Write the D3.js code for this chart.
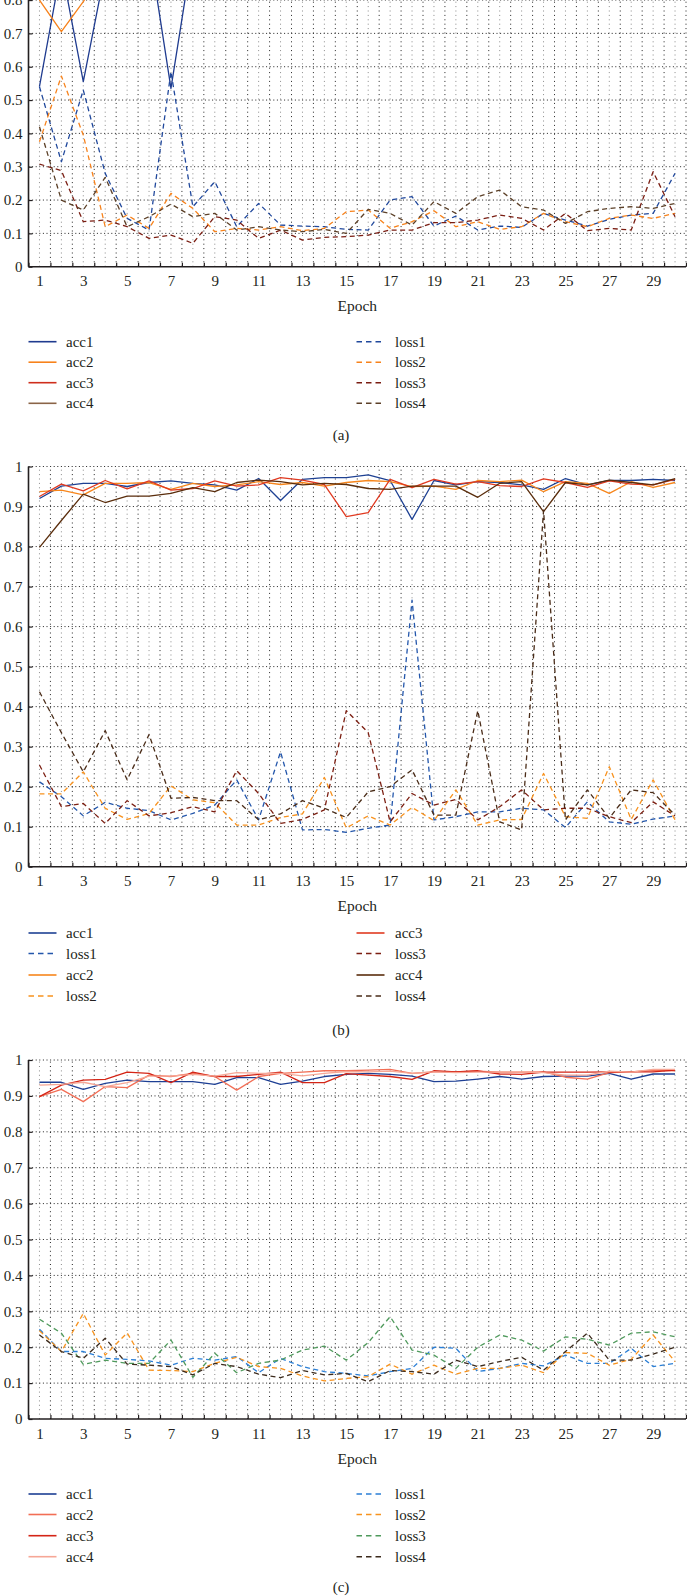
<!DOCTYPE html>
<html><head><meta charset="utf-8">
<script src="https://cdn.jsdelivr.net/npm/d3@7"></script>
<style>
body{margin:0;background:#fff}
svg{display:block}
text{font-family:"Liberation Serif","Times New Roman",serif;fill:#231f20}
</style>
</head><body>
<svg id="chart" width="687" height="1596"></svg>
<script>
const epochs = d3.range(1, 31);
const yTickValues = [0,0.1,0.2,0.3,0.4,0.5,0.6,0.7,0.8,0.9,1];
const xTickLabels = [1,3,5,7,9,11,13,15,17,19,21,23,25,27,29];

// ---- panel (a)
const a_acc1 = [0.54,0.90,0.555,0.89,0.95,0.96,0.535,0.95,0.96,0.96,0.97,0.96,0.97,0.97,0.97,0.97,0.98,0.97,0.97,0.97,0.98,0.97,0.97,0.98,0.97,0.98,0.97,0.98,0.98,0.98];
const a_acc2 = [0.80,0.705,0.795,0.90,0.93,0.94,0.93,0.95,0.96,0.95,0.96,0.96,0.96,0.97,0.95,0.95,0.96,0.96,0.95,0.96,0.96,0.96,0.96,0.95,0.96,0.96,0.96,0.96,0.96,0.96];
const a_acc3 = [0.88,0.90,0.95,0.95,0.96,0.97,0.97,0.97,0.96,0.96,0.97,0.97,0.97,0.97,0.97,0.97,0.97,0.97,0.96,0.97,0.96,0.96,0.96,0.97,0.96,0.97,0.97,0.97,0.93,0.96];
const a_acc4 = [0.86,0.93,0.94,0.92,0.96,0.95,0.94,0.95,0.95,0.96,0.96,0.96,0.96,0.96,0.97,0.95,0.95,0.96,0.94,0.95,0.94,0.93,0.94,0.95,0.95,0.95,0.95,0.94,0.95,0.95];
const a_loss1 = [0.54,0.315,0.53,0.28,0.145,0.11,0.585,0.18,0.255,0.12,0.19,0.125,0.122,0.12,0.112,0.11,0.20,0.21,0.122,0.152,0.11,0.122,0.118,0.16,0.14,0.122,0.142,0.155,0.16,0.28];
const a_loss2 = [0.375,0.572,0.395,0.12,0.155,0.115,0.22,0.175,0.105,0.115,0.11,0.12,0.108,0.115,0.165,0.17,0.115,0.135,0.168,0.12,0.135,0.112,0.12,0.16,0.135,0.12,0.145,0.155,0.145,0.16];
const a_loss3 = [0.308,0.288,0.135,0.14,0.12,0.085,0.095,0.07,0.15,0.14,0.085,0.11,0.08,0.088,0.09,0.095,0.11,0.11,0.132,0.132,0.14,0.155,0.145,0.11,0.16,0.108,0.115,0.11,0.285,0.15];
const a_loss4 = [0.42,0.20,0.17,0.268,0.12,0.15,0.188,0.15,0.16,0.11,0.12,0.11,0.105,0.112,0.10,0.172,0.16,0.125,0.195,0.16,0.21,0.23,0.18,0.17,0.13,0.165,0.175,0.18,0.175,0.19];

// ---- panel (b)
const b_acc1 = [0.920,0.951,0.958,0.958,0.950,0.960,0.964,0.958,0.954,0.941,0.970,0.915,0.968,0.972,0.972,0.979,0.965,0.868,0.965,0.954,0.962,0.960,0.954,0.943,0.970,0.954,0.965,0.965,0.968,0.965];
const b_acc2 = [0.937,0.941,0.929,0.958,0.958,0.960,0.943,0.958,0.950,0.954,0.962,0.955,0.960,0.951,0.960,0.965,0.962,0.950,0.951,0.943,0.965,0.962,0.966,0.937,0.962,0.958,0.933,0.962,0.948,0.960];
const b_acc3 = [0.925,0.956,0.939,0.965,0.944,0.964,0.941,0.945,0.964,0.951,0.954,0.972,0.966,0.955,0.875,0.885,0.968,0.947,0.968,0.956,0.962,0.952,0.950,0.969,0.960,0.948,0.964,0.956,0.954,0.968];
const b_acc4 = [0.798,0.865,0.931,0.910,0.926,0.926,0.933,0.947,0.937,0.960,0.966,0.962,0.954,0.958,0.955,0.945,0.943,0.951,0.951,0.951,0.923,0.958,0.962,0.887,0.960,0.954,0.966,0.960,0.954,0.970];
const b_loss1 = [0.212,0.175,0.127,0.161,0.146,0.14,0.117,0.133,0.154,0.217,0.117,0.287,0.092,0.093,0.086,0.096,0.104,0.666,0.117,0.125,0.137,0.137,0.146,0.142,0.098,0.162,0.112,0.106,0.119,0.127];
const b_loss2 = [0.182,0.182,0.237,0.146,0.118,0.133,0.202,0.167,0.16,0.104,0.104,0.123,0.132,0.223,0.097,0.127,0.104,0.148,0.115,0.192,0.104,0.117,0.118,0.233,0.125,0.121,0.25,0.118,0.217,0.117];
const b_loss3 = [0.254,0.150,0.158,0.108,0.165,0.127,0.135,0.150,0.137,0.24,0.183,0.108,0.118,0.142,0.39,0.335,0.112,0.183,0.154,0.168,0.117,0.150,0.192,0.142,0.146,0.146,0.125,0.11,0.162,0.127];
const b_loss4 = [0.437,0.335,0.237,0.34,0.217,0.33,0.171,0.173,0.165,0.165,0.117,0.132,0.165,0.146,0.123,0.187,0.2,0.242,0.129,0.129,0.39,0.112,0.092,0.89,0.117,0.192,0.121,0.192,0.185,0.129];

// ---- panel (c)
const c_acc1 = [0.938,0.938,0.918,0.935,0.944,0.94,0.94,0.94,0.932,0.951,0.951,0.932,0.941,0.954,0.960,0.963,0.960,0.955,0.940,0.941,0.947,0.954,0.947,0.954,0.955,0.955,0.963,0.947,0.961,0.961];
const c_acc2 = [0.898,0.918,0.884,0.926,0.923,0.958,0.954,0.963,0.954,0.916,0.954,0.963,0.966,0.970,0.970,0.972,0.974,0.963,0.967,0.967,0.969,0.966,0.966,0.967,0.952,0.947,0.965,0.967,0.972,0.970];
const c_acc3 = [0.898,0.930,0.944,0.946,0.966,0.963,0.937,0.966,0.954,0.954,0.960,0.966,0.937,0.937,0.962,0.958,0.954,0.946,0.970,0.967,0.970,0.961,0.960,0.966,0.966,0.966,0.967,0.967,0.967,0.972];
const c_acc4 = [0.930,0.932,0.938,0.926,0.937,0.955,0.955,0.960,0.955,0.965,0.963,0.963,0.956,0.963,0.968,0.967,0.969,0.963,0.967,0.965,0.966,0.966,0.966,0.965,0.958,0.958,0.969,0.966,0.974,0.974];
const c_loss1 = [0.25,0.188,0.188,0.169,0.166,0.162,0.15,0.169,0.164,0.174,0.129,0.169,0.146,0.132,0.127,0.12,0.132,0.141,0.2,0.197,0.132,0.141,0.155,0.148,0.178,0.155,0.155,0.197,0.146,0.155];
const c_loss2 = [0.246,0.188,0.294,0.178,0.24,0.136,0.135,0.132,0.155,0.172,0.146,0.141,0.12,0.106,0.113,0.118,0.153,0.125,0.15,0.125,0.141,0.141,0.15,0.129,0.185,0.183,0.15,0.166,0.234,0.16];
const c_loss3 = [0.278,0.239,0.152,0.164,0.155,0.155,0.22,0.116,0.183,0.129,0.155,0.164,0.192,0.203,0.164,0.213,0.285,0.192,0.178,0.141,0.2,0.234,0.22,0.189,0.229,0.222,0.206,0.239,0.243,0.229];
const c_loss4 = [0.234,0.188,0.169,0.225,0.153,0.15,0.146,0.123,0.155,0.146,0.125,0.115,0.135,0.123,0.127,0.104,0.135,0.132,0.125,0.164,0.146,0.16,0.172,0.136,0.188,0.239,0.164,0.164,0.181,0.2];

const DASH = "5,3.5";
const panels = [
  { caption: "(a)", y0: 266.7, y1: -66.6, legendRows: [75, 95.5, 116, 136.6], captionY: 435,
    series: [
      {name:"acc1", data:a_acc1, color:"#1f3b8f"},
      {name:"acc2", data:a_acc2, color:"#f7821b"},
      {name:"acc3", data:a_acc3, color:"#cf2e1c"},
      {name:"acc4", data:a_acc4, color:"#8a6447"},
      {name:"loss1", data:a_loss1, color:"#20489c", dash:true},
      {name:"loss2", data:a_loss2, color:"#f7821b", dash:true},
      {name:"loss3", data:a_loss3, color:"#7a1d12", dash:true},
      {name:"loss4", data:a_loss4, color:"#5c4028", dash:true}
    ],
    left: ["acc1","acc2","acc3","acc4"], right: ["loss1","loss2","loss3","loss4"] },
  { caption: "(b)", y0: 866.7, y1: 466.5, legendRows: [66.3, 86.8, 108.3, 129.3], captionY: 1030,
    series: [
      {name:"acc1", data:b_acc1, color:"#1e4193"},
      {name:"acc2", data:b_acc2, color:"#f7861c"},
      {name:"acc3", data:b_acc3, color:"#e03a21"},
      {name:"acc4", data:b_acc4, color:"#5a2d0c"},
      {name:"loss1", data:b_loss1, color:"#2356ab", dash:true},
      {name:"loss2", data:b_loss2, color:"#f8921e", dash:true},
      {name:"loss3", data:b_loss3, color:"#7c1f12", dash:true},
      {name:"loss4", data:b_loss4, color:"#4a2c18", dash:true}
    ],
    left: ["acc1","loss1","acc2","loss2"], right: ["acc3","loss3","acc4","loss4"] },
  { caption: "(c)", y0: 1419, y1: 1060, legendRows: [75, 95.5, 116.7, 137.7], captionY: 1587,
    series: [
      {name:"acc1", data:c_acc1, color:"#1d3f94"},
      {name:"acc2", data:c_acc2, color:"#f26e55"},
      {name:"acc3", data:c_acc3, color:"#d42516"},
      {name:"acc4", data:c_acc4, color:"#f6a796"},
      {name:"loss1", data:c_loss1, color:"#2b7fd6", dash:true},
      {name:"loss2", data:c_loss2, color:"#f7931e", dash:true},
      {name:"loss3", data:c_loss3, color:"#4f9a5c", dash:true},
      {name:"loss4", data:c_loss4, color:"#3b2a1c", dash:true}
    ],
    left: ["acc1","acc2","acc3","acc4"], right: ["loss1","loss2","loss3","loss4"] }
];

const svg = d3.select("#chart");
const X0 = 28.5, X1 = 686;
const x = d3.scaleLinear().domain([0.5, 30.5]).range([X0, X1]);
const boundaries = d3.range(0.5, 31, 1);

panels.forEach(p => {
  const y = d3.scaleLinear().domain([0, 1]).range([p.y0, p.y1]);
  const g = svg.append("g");

  // vertical grid: band centres (light) and boundaries (dark)
  g.append("g").selectAll("line").data(epochs).join("line")
    .attr("x1", d => x(d)).attr("x2", d => x(d))
    .attr("y1", y(0)).attr("y2", y(1))
    .attr("stroke", "#8a8a8a").attr("stroke-width", 1).attr("stroke-dasharray", "1,3.4");
  g.append("g").selectAll("line").data(boundaries.slice(1)).join("line")
    .attr("x1", d => x(d)).attr("x2", d => x(d))
    .attr("y1", y(0)).attr("y2", y(1))
    .attr("stroke", "#222").attr("stroke-width", 1).attr("stroke-dasharray", "1,3.4");
  // horizontal grid
  g.append("g").selectAll("line").data(yTickValues.slice(1)).join("line")
    .attr("x1", X0).attr("x2", X1)
    .attr("y1", d => y(d)).attr("y2", d => y(d))
    .attr("stroke", "#222").attr("stroke-width", 1).attr("stroke-dasharray", "1,2.6");

  // series lines
  const line = d3.line().x((d, i) => x(epochs[i])).y(d => y(d));
  p.series.forEach(s => {
    g.append("path").datum(s.data)
      .attr("d", line)
      .attr("fill", "none")
      .attr("stroke", s.color)
      .attr("stroke-width", 1.3)
      .attr("stroke-linejoin", "round")
      .attr("stroke-dasharray", s.dash ? DASH : null);
  });

  // y axis (only labels that fall on the canvas)
  const visibleTicks = yTickValues.filter(v => y(v) > -12);
  const yAxis = d3.axisLeft(y).tickValues(visibleTicks)
    .tickSize(-4).tickPadding(6)
    .tickFormat(d => (d === 0 || d === 1) ? String(d) : d.toFixed(1));
  const ya = g.append("g").attr("transform", `translate(${X0},0)`).call(yAxis);
  ya.select(".domain").remove();
  ya.selectAll(".tick line").attr("stroke", "#231f20").attr("stroke-width", 1.2);
  ya.selectAll("text").style("font-size", "15px").attr("fill", "#231f20");
  g.append("line").attr("x1", X0).attr("x2", X0).attr("y1", y(0)).attr("y2", Math.max(y(1), -2))
    .attr("stroke", "#231f20").attr("stroke-width", 1.6);

  // x axis: boundary ticks + odd labels at centres
  const xTicks = d3.axisBottom(x).tickValues(boundaries).tickSize(-4).tickFormat("");
  const xt = g.append("g").attr("transform", `translate(0,${y(0)})`).call(xTicks);
  xt.select(".domain").remove();
  xt.selectAll(".tick line").attr("stroke", "#231f20").attr("stroke-width", 1.2);
  const xLab = d3.axisBottom(x).tickValues(xTickLabels).tickSize(0).tickPadding(9).tickFormat(d3.format("d"));
  const xl = g.append("g").attr("transform", `translate(0,${y(0)})`).call(xLab);
  xl.select(".domain").remove();
  xl.selectAll("text").style("font-size", "15px").attr("fill", "#231f20");
  g.append("line").attr("x1", X0).attr("x2", X1).attr("y1", y(0)).attr("y2", y(0))
    .attr("stroke", "#231f20").attr("stroke-width", 1.6);

  g.append("text").attr("x", (X0 + X1) / 2).attr("y", y(0) + 39)
    .attr("text-anchor", "middle").attr("dominant-baseline", "central")
    .style("font-size", "15.5px").text("Epoch");

  // legend
  const byName = {};
  p.series.forEach(s => byName[s.name] = s);
  const cols = [{names: p.left, lx: 28.5, tx: 66}, {names: p.right, lx: 356.5, tx: 395}];
  cols.forEach(c => {
    c.names.forEach((n, i) => {
      const s = byName[n];
      const ly = y(0) + p.legendRows[i];
      g.append("line").attr("x1", c.lx).attr("x2", c.lx + 28).attr("y1", ly).attr("y2", ly)
        .attr("stroke", s.color).attr("stroke-width", 1.6)
        .attr("stroke-dasharray", s.dash ? "5.5,4" : null);
      g.append("text").attr("x", c.tx).attr("y", ly).attr("dominant-baseline", "central")
        .style("font-size", "15px").text(n);
    });
  });

  g.append("text").attr("x", 341).attr("y", p.captionY)
    .attr("text-anchor", "middle").attr("dominant-baseline", "central")
    .style("font-size", "15px").text(p.caption);
});
</script>
</body></html>
